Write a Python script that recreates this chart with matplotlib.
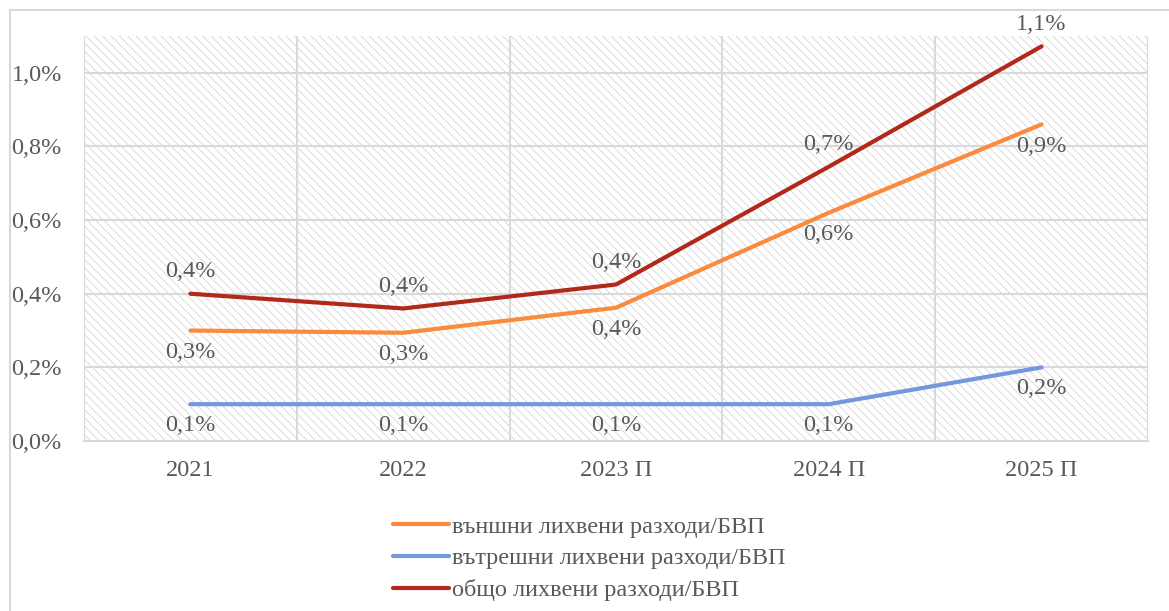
import matplotlib.pyplot as plt
from matplotlib.patches import Rectangle
from matplotlib.ticker import FuncFormatter

plt.rcParams['font.family'] = ['Liberation Serif', 'DejaVu Serif']
plt.rcParams['hatch.linewidth'] = 0.6

years = ['2021', '2022', '2023 П', '2024 П', '2025 П']
external = [0.30, 0.294, 0.362, 0.62, 0.86]
internal = [0.10, 0.10, 0.10, 0.10, 0.20]
total = [0.40, 0.36, 0.425, 0.745, 1.072]
names = ['външни лихвени разходи/БВП', 'вътрешни лихвени разходи/БВП',
         'общо лихвени разходи/БВП']
colors = ['#FA8A3C', '#7398DC', '#B0291B']
text_col = '#595959'
grid_col = '#d9d9d9'
fs = 17.5


def pct(v):
    return f'{v:.1f}%'.replace('.', ',')


fig = plt.figure(figsize=(11.69, 6.11), dpi=100)
fig.patches.append(Rectangle((10 / 1169, -0.1), 1.2, (611 - 10) / 611 + 0.1,
                             transform=fig.transFigure, fill=False,
                             edgecolor='#d9d9d9', linewidth=1.5))
ax = fig.add_axes([84 / 1169, (611 - 441) / 611, (1148 - 84) / 1169, (441 - 36) / 611])
ax.add_patch(Rectangle((0, 0), 1, 1, transform=ax.transAxes, facecolor='white',
                       edgecolor='#d6d6d6', linewidth=0, hatch='\\\\\\\\', zorder=0))

x = list(range(len(years)))
series = [external, internal, total]
offsets = [-16, -15, 16]
for vals, name, c, off in zip(series, names, colors, offsets):
    ax.plot(x, vals, color=c, linewidth=3, label=name, zorder=3,
            solid_capstyle='round')
    for xi, v in zip(x, vals):
        ax.annotate(pct(v), (xi, v), xytext=(0, off), textcoords='offset points',
                    ha='center', va='center', fontsize=fs, color=text_col, zorder=4)

ax.set_xlim(-0.5, len(years) - 0.5)
ax.set_ylim(0, 1.1)
ax.set_yticks([0, 0.2, 0.4, 0.6, 0.8, 1.0])
ax.yaxis.set_major_formatter(FuncFormatter(lambda v, p: pct(v)))
ax.set_xticks(x)
ax.set_xticklabels(years)
ax.set_xticks([i - 0.5 for i in range(len(years) + 1)], minor=True)
ax.grid(axis='y', which='major', color=grid_col, linewidth=1.5, zorder=1)
ax.grid(axis='x', which='minor', color=grid_col, linewidth=1.5, zorder=1)
ax.tick_params(which='both', length=0, labelsize=fs, labelcolor=text_col)
ax.tick_params(axis='y', pad=16)
ax.tick_params(axis='x', pad=14)
for s in ax.spines.values():
    s.set_visible(False)
ax.spines['bottom'].set_visible(True)
ax.spines['bottom'].set_color(grid_col)
ax.spines['bottom'].set_linewidth(1.5)
ax.set_axisbelow(True)

ax.legend(loc='upper center', bbox_to_anchor=(0.475, -0.13), frameon=False,
          fontsize=fs, labelcolor=text_col, handlelength=2.3, handletextpad=0.1,
          labelspacing=0.4)

fig.savefig('out.png', dpi=100)
